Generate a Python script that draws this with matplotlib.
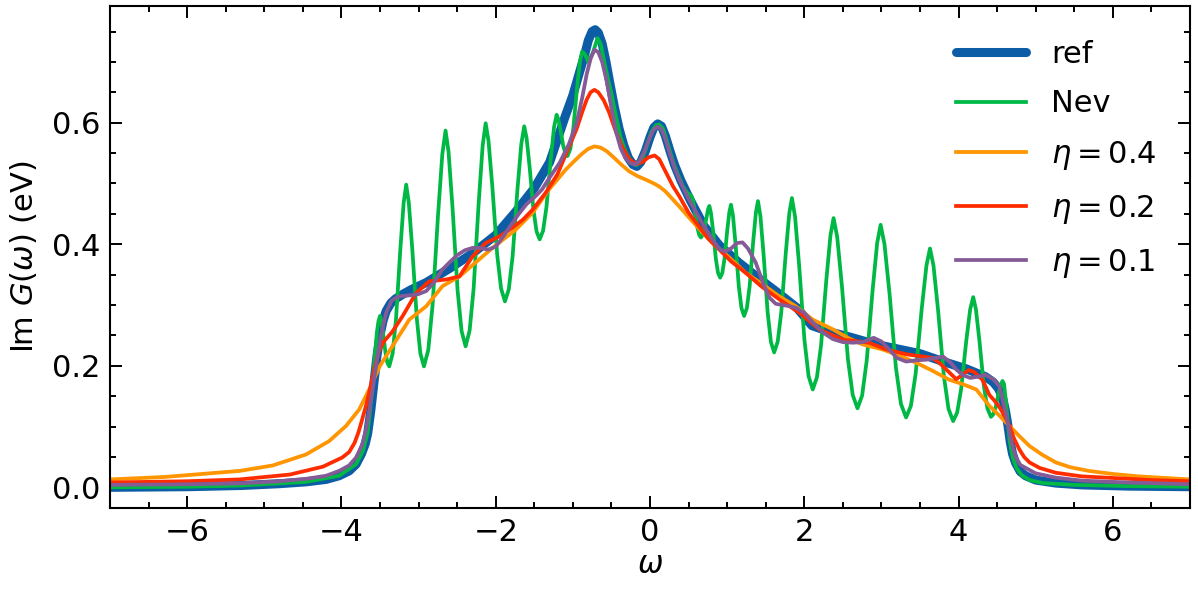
import matplotlib
matplotlib.use("Agg")
import matplotlib.pyplot as plt
from matplotlib.ticker import MultipleLocator

# ---------------- data ----------------
ref_x = [-7, -6, -5.3, -4.8, -4.46, -4.2, -4.03, -3.9, -3.81, -3.74, -3.69, -3.66, -3.62,
         -3.58, -3.54, -3.5, -3.46, -3.42, -3.36, -3.3, -3.2, -3.1, -2.9, -2.6, -2.3, -2.0,
         -1.75, -1.5, -1.3, -1.1, -1.0, -0.92, -0.85, -0.8, -0.75, -0.71, -0.67, -0.62,
         -0.57, -0.52, -0.46, -0.4, -0.34, -0.28, -0.22, -0.17, -0.12, -0.06, 0.0, 0.05,
         0.1, 0.15, 0.2, 0.26, 0.32, 0.4, 0.52, 0.7, 0.9, 1.15, 1.43, 1.7, 1.9, 2.1, 2.35,
         2.6, 2.9, 3.2, 3.5, 3.8, 4.1, 4.35, 4.45, 4.52, 4.57, 4.61, 4.64, 4.67, 4.70, 4.74,
         4.8, 4.87, 5.0, 5.26, 5.6, 6.2, 7]
ref_y = [0.0, 0.001, 0.003, 0.006, 0.009, 0.013, 0.019, 0.027, 0.038, 0.055, 0.072, 0.088,
         0.125, 0.17, 0.215, 0.25, 0.274, 0.29, 0.303, 0.31, 0.318, 0.325, 0.337, 0.36,
         0.385, 0.415, 0.452, 0.492, 0.535, 0.61, 0.645, 0.68, 0.71, 0.735, 0.75, 0.753,
         0.748, 0.73, 0.70, 0.665, 0.625, 0.59, 0.563, 0.542, 0.531, 0.528, 0.535, 0.553,
         0.576, 0.592, 0.598, 0.594, 0.578, 0.553, 0.53, 0.505, 0.473, 0.43, 0.398, 0.37,
         0.342, 0.316, 0.296, 0.266, 0.255, 0.247, 0.236, 0.228, 0.22, 0.207, 0.195, 0.182,
         0.173, 0.162, 0.148, 0.125, 0.102, 0.075, 0.055, 0.04, 0.026, 0.019, 0.012, 0.007,
         0.004, 0.002, 0.001]

nev_x = [-7, -6, -5.3, -4.46, -4.03, -3.81, -3.72, -3.66, -3.61, -3.57, -3.54, -3.52, -3.50,
         -3.482, -3.458, -3.428, -3.404, -3.38, -3.336, -3.292, -3.237, -3.193, -3.16,
         -3.126, -3.080, -3.022, -2.976, -2.93, -2.874, -2.818, -2.748, -2.692, -2.65,
         -2.611, -2.559, -2.494, -2.442, -2.39, -2.338, -2.286, -2.221, -2.169, -2.13,
         -2.093, -2.043, -1.98, -1.93, -1.88, -1.83, -1.78, -1.718, -1.668, -1.63,
         -1.60, -1.56, -1.51, -1.47, -1.43, -1.386, -1.342, -1.287, -1.243, -1.21,
         -1.189, -1.161, -1.126, -1.098, -1.07, -1.032, -0.994, -0.947, -0.909, -0.88,
         -0.84, -0.80, -0.74, -0.68, -0.64, -0.60, -0.55, -0.5, -0.44, -0.38, -0.31, -0.25,
         -0.18, -0.12, -0.05, 0.02, 0.08, 0.12, 0.17, 0.23, 0.3, 0.36, 0.42, 0.48, 0.54,
         0.558, 0.582, 0.612, 0.636, 0.66, 0.682, 0.704, 0.732, 0.754, 0.77,
         0.791, 0.819, 0.854, 0.882, 0.91, 0.938, 0.966, 1.001, 1.029, 1.05,
         1.076, 1.110, 1.152, 1.186, 1.22, 1.256, 1.292, 1.337, 1.373, 1.40,
         1.432, 1.474, 1.526, 1.568, 1.61, 1.656, 1.702, 1.760, 1.806, 1.84,
         1.881, 1.935, 2.002, 2.056, 2.11, 2.164, 2.218, 2.286, 2.340, 2.38,
         2.427, 2.489, 2.566, 2.628, 2.69, 2.75, 2.81, 2.885, 2.945, 2.99,
         3.040, 3.106, 3.188, 3.254, 3.32, 3.382, 3.444, 3.522, 3.584, 3.63,
         3.675, 3.735, 3.81, 3.87, 3.93, 3.982, 4.034, 4.099, 4.151, 4.19,
         4.225, 4.27, 4.328, 4.374, 4.42, 4.45, 4.48, 4.518, 4.548, 4.57,
         4.59, 4.615, 4.64, 4.665, 4.70, 4.75, 4.82, 4.92, 5.1, 5.5, 6.2, 7]
nev_y = [0.0, 0.001, 0.003, 0.009, 0.019, 0.038, 0.06, 0.09, 0.15, 0.21, 0.255, 0.273, 0.282,
         0.274, 0.252, 0.221, 0.205, 0.199, 0.220, 0.277, 0.390, 0.468, 0.498,
         0.468, 0.390, 0.277, 0.220, 0.199, 0.226, 0.300, 0.447, 0.548, 0.587,
         0.552, 0.459, 0.324, 0.257, 0.232, 0.258, 0.327, 0.467, 0.562, 0.599,
         0.570, 0.494, 0.382, 0.327, 0.306, 0.326, 0.381, 0.490, 0.565, 0.594,
         0.575, 0.527, 0.456, 0.421, 0.408, 0.422, 0.461, 0.539, 0.593, 0.613,
         0.606, 0.589, 0.563, 0.550, 0.545, 0.557, 0.590, 0.655, 0.700, 0.717,
         0.712, 0.70, 0.715, 0.739, 0.73, 0.705, 0.675, 0.648, 0.61, 0.575, 0.55, 0.537,
         0.53, 0.535, 0.558, 0.585, 0.596, 0.597, 0.59, 0.565, 0.535, 0.515, 0.497, 0.485,
         0.479, 0.472, 0.455, 0.429, 0.416, 0.411, 0.415, 0.425, 0.444, 0.458, 0.463,
         0.451, 0.421, 0.376, 0.353, 0.345, 0.353, 0.376, 0.422, 0.453, 0.465,
         0.447, 0.399, 0.330, 0.295, 0.282, 0.295, 0.331, 0.403, 0.452, 0.471,
         0.446, 0.381, 0.287, 0.239, 0.222, 0.240, 0.288, 0.385, 0.451, 0.476,
         0.445, 0.363, 0.243, 0.183, 0.161, 0.181, 0.234, 0.341, 0.415, 0.443,
         0.412, 0.330, 0.211, 0.152, 0.130, 0.151, 0.209, 0.323, 0.402, 0.432,
         0.400, 0.318, 0.197, 0.137, 0.115, 0.134, 0.187, 0.293, 0.365, 0.393,
         0.365, 0.291, 0.183, 0.129, 0.109, 0.123, 0.162, 0.240, 0.293, 0.313,
         0.293, 0.242, 0.167, 0.130, 0.116, 0.12, 0.131, 0.154, 0.169, 0.175,
         0.17, 0.14, 0.105, 0.075, 0.05, 0.032, 0.02, 0.012, 0.007, 0.004, 0.002, 0.001]

eta04_x = [-7, -6.3, -5.32, -4.89, -4.46, -4.16, -3.94, -3.77, -3.64, -3.5, -3.34, -3.12,
           -2.9, -2.69, -2.47, -2.26, -2.04, -1.87, -1.74, -1.52, -1.31, -1.09, -0.98, -0.88,
           -0.8, -0.72, -0.64, -0.56, -0.48, -0.38, -0.27, -0.16, -0.05, 0.05, 0.12, 0.2,
           0.28, 0.38, 0.59, 0.81, 1.03, 1.24, 1.46, 1.68, 1.89, 2.11, 2.37, 2.58, 2.76,
           3.01, 3.23, 3.45, 3.66, 3.88, 4.05, 4.23, 4.40, 4.53, 4.66, 4.79, 4.92, 5.08,
           5.26, 5.45, 5.69, 6.0, 6.34, 7]
eta04_y = [0.013, 0.017, 0.027, 0.036, 0.054, 0.076, 0.101, 0.128, 0.161, 0.20, 0.232,
           0.276, 0.298, 0.331, 0.347, 0.37, 0.394, 0.411, 0.424, 0.452, 0.49, 0.523, 0.537,
           0.549, 0.557, 0.561, 0.559, 0.553, 0.544, 0.532, 0.52, 0.512, 0.506, 0.5, 0.495,
           0.487, 0.476, 0.462, 0.432, 0.402, 0.378, 0.353, 0.334, 0.314, 0.298, 0.276,
           0.26, 0.245, 0.235, 0.227, 0.217, 0.205, 0.192, 0.177, 0.17, 0.161, 0.134, 0.118,
           0.101, 0.084, 0.068, 0.054, 0.041, 0.033, 0.027, 0.022, 0.018, 0.013]

eta02_x = [-7, -6, -5.32, -4.67, -4.24, -3.99, -3.9, -3.83, -3.78, -3.73, -3.68, -3.64,
           -3.58, -3.52, -3.45, -3.34, -3.21, -3.03, -2.86, -2.64, -2.47, -2.3, -2.13, -1.95,
           -1.82, -1.65, -1.52, -1.35, -1.2, -1.05, -0.95, -0.88, -0.82, -0.77, -0.72, -0.67,
           -0.6, -0.53, -0.45, -0.36, -0.27, -0.18, -0.1, -0.02, 0.06, 0.12, 0.2, 0.3, 0.38,
           0.5, 0.6, 0.75, 0.9, 1.05, 1.24, 1.45, 1.68, 1.94, 2.19, 2.5, 2.84, 3.06, 3.32,
           3.66, 3.75, 3.84, 3.97, 4.05, 4.13, 4.2, 4.31, 4.40, 4.47, 4.53, 4.6, 4.66, 4.72,
           4.79, 4.85, 4.92, 5.05, 5.26, 5.6, 5.91, 6.5, 7]
eta02_y = [0.008, 0.01, 0.013, 0.021, 0.034, 0.049, 0.058, 0.073, 0.09, 0.112, 0.135,
           0.156, 0.19, 0.222, 0.24, 0.256, 0.281, 0.32, 0.339, 0.342, 0.347, 0.38, 0.402,
           0.413, 0.424, 0.44, 0.457, 0.485, 0.515, 0.56, 0.59, 0.617, 0.638, 0.65, 0.654,
           0.65, 0.637, 0.617, 0.588, 0.56, 0.54, 0.532, 0.535, 0.543, 0.546, 0.54, 0.52,
           0.495, 0.479, 0.452, 0.435, 0.41, 0.391, 0.372, 0.353, 0.33, 0.309, 0.287, 0.26,
           0.243, 0.238, 0.227, 0.219, 0.213, 0.205, 0.194, 0.178, 0.185, 0.193, 0.19, 0.177,
           0.152, 0.142, 0.132, 0.117, 0.101, 0.08, 0.062, 0.05, 0.041, 0.032, 0.024, 0.018,
           0.016, 0.012, 0.01]

eta01_x = [-7, -6, -5.32, -4.8, -4.46, -4.2, -4.03, -3.9, -3.81, -3.73, -3.68, -3.64, -3.6,
           -3.55, -3.5, -3.47, -3.42, -3.35, -3.28, -3.2, -3.1, -3.0, -2.9, -2.8, -2.7, -2.6,
           -2.5, -2.4, -2.3, -2.2, -2.1, -2.0, -1.9, -1.8, -1.7, -1.6, -1.5, -1.4, -1.3,
           -1.17, -1.05, -0.95, -0.88, -0.82, -0.77, -0.72, -0.67, -0.62, -0.56, -0.5, -0.44,
           -0.38, -0.32, -0.26, -0.2, -0.14, -0.08, -0.02, 0.04, 0.1, 0.15, 0.2, 0.26, 0.32,
           0.38, 0.5, 0.6, 0.7, 0.81, 0.9, 0.97, 1.05, 1.13, 1.2, 1.27, 1.37, 1.47, 1.55,
           1.63, 1.72, 1.81, 1.9, 2.0, 2.1, 2.24, 2.37, 2.5, 2.63, 2.76, 2.9, 3.0, 3.1, 3.2,
           3.32, 3.45, 3.58, 3.7, 3.8, 3.9, 3.97, 4.05, 4.15, 4.25, 4.35, 4.45, 4.53, 4.58,
           4.62, 4.66, 4.70, 4.74, 4.8, 4.87, 5.0, 5.26, 5.6, 6.2, 7]
eta01_y = [0.004, 0.005, 0.0066, 0.01, 0.014, 0.019, 0.027, 0.036, 0.049, 0.07, 0.095,
           0.125, 0.156, 0.2, 0.24, 0.26, 0.287, 0.307, 0.313, 0.315, 0.316, 0.318, 0.323,
           0.337, 0.357, 0.37, 0.382, 0.39, 0.394, 0.394, 0.391, 0.396, 0.413, 0.432, 0.45,
           0.466, 0.477, 0.49, 0.51, 0.534, 0.565, 0.6, 0.64, 0.68, 0.705, 0.72, 0.716, 0.7,
           0.668, 0.625, 0.585, 0.558, 0.542, 0.534, 0.531, 0.536, 0.551, 0.57, 0.587, 0.594,
           0.589, 0.573, 0.548, 0.525, 0.506, 0.475, 0.452, 0.43, 0.408, 0.392, 0.388, 0.393,
           0.402, 0.403, 0.393, 0.37, 0.335, 0.312, 0.302, 0.3, 0.298, 0.295, 0.287, 0.273,
           0.255, 0.244, 0.239, 0.238, 0.239, 0.246, 0.24, 0.227, 0.213, 0.207, 0.209, 0.21,
           0.213, 0.215, 0.205, 0.194, 0.185, 0.18, 0.182, 0.185, 0.178, 0.166, 0.14, 0.118,
           0.09, 0.068, 0.05, 0.037, 0.032, 0.023, 0.016, 0.011, 0.008, 0.005]

labels = ["ref", "Nev", r"$\eta=0.4$", r"$\eta=0.2$", r"$\eta=0.1$"]
colors = ["#0C5DA5", "#00B945", "#FF9500", "#FF2C00", "#845B97"]

# ---------------- figure ----------------
plt.rcParams["font.family"] = ["DejaVu Sans"]
plt.rcParams["mathtext.fontset"] = "dejavusans"

fig = plt.figure(figsize=(11.98, 5.98), dpi=100)
ax = fig.add_axes([0.0918, 0.1505, 0.9015, 0.8395])

ax.plot(ref_x, ref_y, color=colors[0], lw=6.5, label=labels[0],
        solid_capstyle="round", solid_joinstyle="round")
ax.plot(nev_x, nev_y, color=colors[1], lw=2.7, label=labels[1], solid_joinstyle="round")
ax.plot(eta04_x, eta04_y, color=colors[2], lw=2.7, label=labels[2], solid_joinstyle="round")
ax.plot(eta02_x, eta02_y, color=colors[3], lw=2.7, label=labels[3], solid_joinstyle="round")
ax.plot(eta01_x, eta01_y, color=colors[4], lw=2.7, label=labels[4], solid_joinstyle="round")

ax.set_xlim(-7, 7)
ax.set_ylim(-0.034, 0.792)
ax.xaxis.set_major_locator(MultipleLocator(2))
ax.xaxis.set_minor_locator(MultipleLocator(0.5))
ax.yaxis.set_major_locator(MultipleLocator(0.2))
ax.yaxis.set_minor_locator(MultipleLocator(0.05))
ax.tick_params(which="both", direction="in", top=True, right=True, width=1.4, labelsize=22)
ax.tick_params(which="major", length=8.5, pad=7)
ax.tick_params(which="minor", length=4)
for s in ax.spines.values():
    s.set_linewidth(1.5)

ax.set_xlabel(r"$\omega$", fontsize=22, labelpad=2)
ax.set_ylabel(r"Im $G(\omega)$ (eV)", fontsize=22, labelpad=9)

leg = ax.legend(loc="upper right", frameon=False, fontsize=22, handlelength=2.3,
                borderaxespad=0.7, labelspacing=0.68, handletextpad=0.8)

fig.savefig("out.png", dpi=100)
